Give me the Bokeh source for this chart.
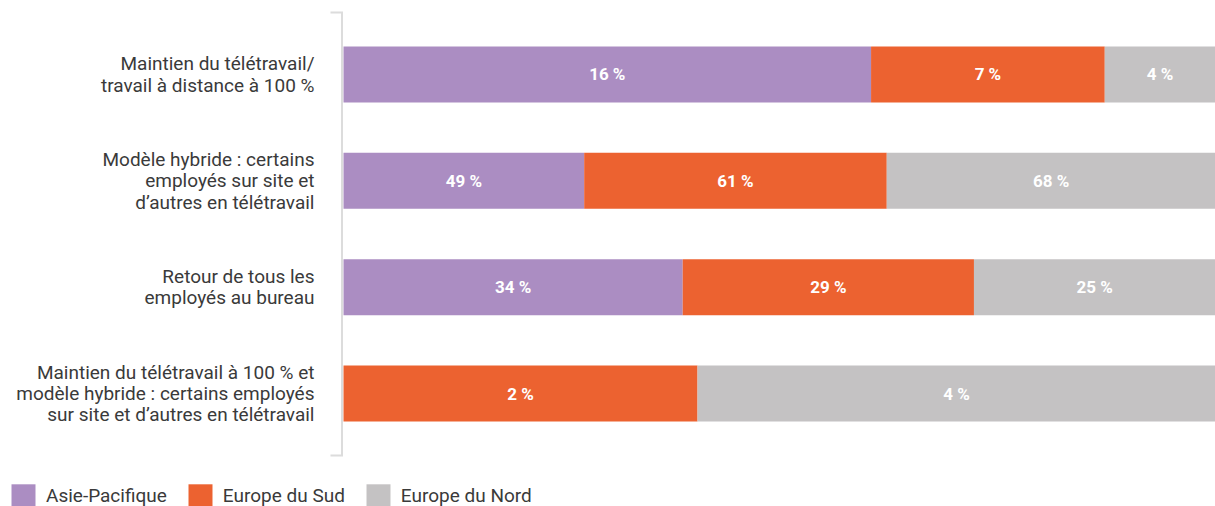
import numpy as np
from bokeh.plotting import figure
from bokeh.models import Range1d, ColumnDataSource, Legend, LegendItem
from bokeh.core.properties import value
from bokeh.embed import file_html
from bokeh.resources import INLINE

# ---------------- data ----------------
categories = [
    "Maintien du télétravail/\ntravail à distance à 100 %",
    "Modèle hybride : certains\nemployés sur site et\nd’autres en télétravail",
    "Retour de tous les\nemployés au bureau",
    "Maintien du télétravail à 100 % et\nmodèle hybride : certains employés\nsur site et d’autres en télétravail",
]
series = ["Asie-Pacifique", "Europe du Sud", "Europe du Nord"]

# percentages printed on the segments
asie_pacifique = [16, 49, 34, None]
europe_du_sud = [7, 61, 29, 2]
europe_du_nord = [4, 68, 25, 4]

# share of each bar's length taken by each segment (% of the bar)
asie_share = [60.5, 27.6, 38.9, 0.0]
sud_share = [26.8, 34.7, 33.4, 40.6]
nord_share = [12.7, 37.7, 27.7, 59.4]

colors = ["#ab8dc2", "#ec6230", "#c4c2c3"]

# ---------------- layout ----------------
W, H = 1215, 506
PX_PER_UNIT_X = 8.72        # screen px per % of bar
X0_FRAME = 343              # frame px where the bars start
ROW_PITCH = 106.4           # px between rows
ROW0 = 73.9                 # frame px of first row centre
BAR_H = 56 / ROW_PITCH

x_range = Range1d(-X0_FRAME / PX_PER_UNIT_X, (W - X0_FRAME) / PX_PER_UNIT_X)
y_range = Range1d((H - ROW0) / ROW_PITCH, -ROW0 / ROW_PITCH)

p = figure(width=W, height=H, x_range=x_range, y_range=y_range,
           output_backend="svg", toolbar_location=None, min_border=0,
           outline_line_color=None, background_fill_color="white",
           border_fill_color="white")
p.xaxis.visible = False
p.yaxis.visible = False
p.grid.visible = False

FONT = value("Roboto")

rows = np.arange(len(categories))
shares = np.array([asie_share, sud_share, nord_share], dtype=float)
rights = np.cumsum(shares, axis=0)
lefts = rights - shares
labels_vals = [asie_pacifique, europe_du_sud, europe_du_nord]

renderers = []
for k, name in enumerate(series):
    src = ColumnDataSource(dict(y=rows, left=lefts[k], right=rights[k]))
    r = p.hbar(y="y", left="left", right="right", height=BAR_H, source=src,
               fill_color=colors[k], line_color=None)
    renderers.append(r)
    tx, ty, tt = [], [], []
    for i, v in enumerate(labels_vals[k]):
        if v is None:
            continue
        tx.append((lefts[k][i] + rights[k][i]) / 2)
        ty.append(rows[i])
        tt.append(f"{v} %")
    p.text(x=tx, y=ty, text=tt, text_color="white", text_font=FONT,
           text_font_size="17px", text_font_style="bold",
           text_align="center", text_baseline="middle")

# category labels
p.text(x=[0] * len(categories), y=rows, text=categories, x_offset=-29,
       text_font=FONT, text_font_size="19px", text_color="#3a3a3a",
       text_align="right", text_baseline="middle", text_line_height=0.93)

# bracket to the left of the bars
def xd(px):
    return (px - X0_FRAME) / PX_PER_UNIT_X

def yd(px):
    return (px - ROW0) / ROW_PITCH

p.line(x=[xd(330), xd(341.5), xd(341.5), xd(330)],
       y=[yd(12), yd(12), yd(455), yd(455)],
       line_color="#dcdcdc", line_width=2, line_join="miter")

legend = Legend(
    items=[LegendItem(label=s, renderers=[r]) for s, r in zip(series, renderers)],
    orientation="horizontal", location=(8, -3),
    glyph_width=30, glyph_height=28, label_height=28, label_standoff=8,
    spacing=18, padding=0, margin=0, border_line_color=None,
    background_fill_alpha=0, label_text_font="Roboto",
    label_text_font_size="19px", label_text_color="#3a3a3a",
)
p.add_layout(legend)

open("out.html", "w").write(file_html(p, INLINE))
